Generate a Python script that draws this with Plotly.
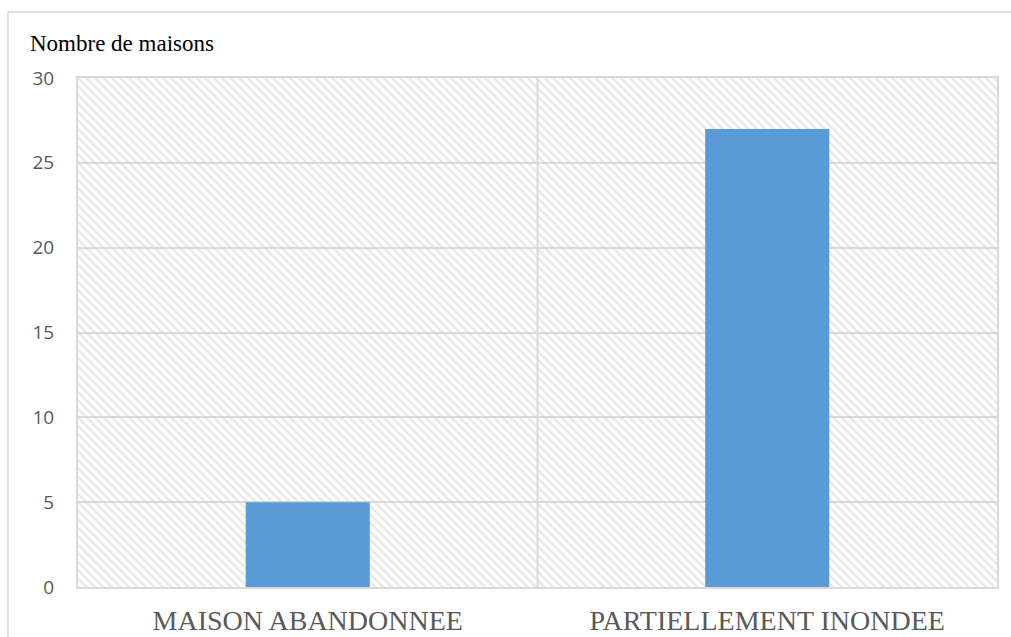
import plotly.graph_objects as go

categories = ["MAISON ABANDONNEE", "PARTIELLEMENT INONDEE"]
values = [5, 27]
y_ticks = [0, 5, 10, 15, 20, 25, 30]
y_title = "Nombre de maisons"

GRID = "#d9d9d9"
TXT = "#595959"
y_max = max(y_ticks)

fig = go.Figure()
# hatched plot background
fig.add_trace(go.Bar(
    x=categories, y=[y_max] * len(categories), width=1,
    marker=dict(color="rgba(0,0,0,0)", line=dict(width=0),
                pattern=dict(shape="\\", fgcolor="#d0d0d0", bgcolor="rgba(0,0,0,0)",
                             size=6, solidity=0.4)),
    hoverinfo="skip", showlegend=False))
fig.add_trace(go.Bar(
    x=categories, y=values, width=0.27,
    marker=dict(color="#5b9bd5", line=dict(width=0)),
    showlegend=False))

fig.update_layout(
    width=1011, height=637,
    margin=dict(l=78, r=14, t=78, b=50),
    paper_bgcolor="white", plot_bgcolor="white",
    barmode="overlay",
    xaxis=dict(showgrid=False, showline=True, mirror=True, linecolor=GRID, linewidth=2,
               ticks="", tickfont=dict(family="Liberation Serif", size=28, color=TXT),
               ticklabelstandoff=7, range=[-0.5, 1.5], automargin=False),
    yaxis=dict(range=[0, y_max], tickvals=y_ticks, showgrid=True, gridcolor=GRID, gridwidth=1.5,
               showline=True, mirror=True, linecolor=GRID, linewidth=2, zeroline=False,
               ticks="", tickfont=dict(family="Open Sans", size=19, color=TXT),
               ticklabelstandoff=18, automargin=False),
    shapes=[
        dict(type="line", xref="x", yref="paper", x0=0.5, x1=0.5, y0=0, y1=1,
             line=dict(color=GRID, width=2)),
        dict(type="line", xref="paper", yref="paper", x0=-0.0762, x1=-0.0762, y0=-0.2, y1=1.1297,
             line=dict(color=GRID, width=1.5)),
        dict(type="line", xref="paper", yref="paper", x0=-0.0762, x1=1.1, y0=1.1297, y1=1.1297,
             line=dict(color=GRID, width=1.5)),
    ],
    annotations=[dict(text=y_title, xref="paper", yref="paper", x=-0.0544, y=1.0668,
                      xanchor="left", yanchor="middle", showarrow=False,
                      font=dict(family="Liberation Serif", size=23, color="black"))],
)

fig.write_html("out.html")
